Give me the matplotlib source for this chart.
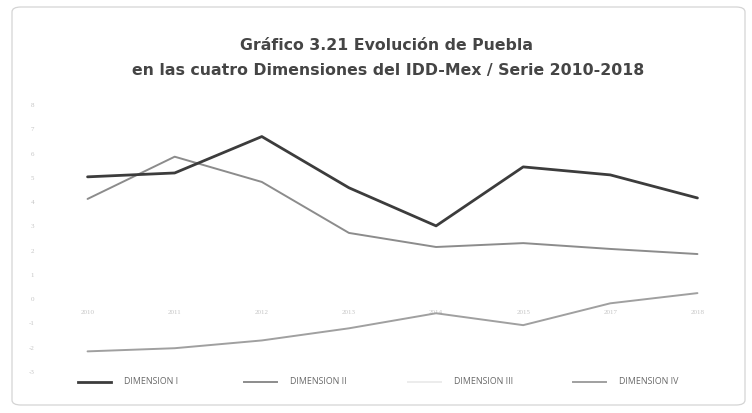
import matplotlib
matplotlib.use("Agg")
import matplotlib.pyplot as plt
from matplotlib.patches import FancyBboxPatch
from matplotlib.lines import Line2D

years = ["2010", "2011", "2012", "2013", "2014", "2015", "2017", "2018"]
dim1 = [5.04, 5.20, 6.70, 4.59, 3.02, 5.45, 5.12, 4.17]
dim2 = [4.13, 5.87, 4.83, 2.73, 2.15, 2.31, 2.07, 1.86]
dim4 = [-2.15, -2.02, -1.70, -1.20, -0.58, -1.07, -0.17, 0.25]
y_ticks = list(range(-3, 9))
legend_labels = ["DIMENSION I", "DIMENSION II", "DIMENSION III", "DIMENSION IV"]

title_lines = ["Gráfico 3.21 Evolución de Puebla",
               "en las cuatro Dimensiones del IDD-Mex / Serie 2010-2018"]

W, H = 752, 413
fig = plt.figure(figsize=(W / 100, H / 100), dpi=100)
fig.patch.set_facecolor("white")

# rounded frame around the chart
frame = FancyBboxPatch((12 / W, 8 / H), 733 / W, 398 / H,
                       boxstyle="round,pad=0,rounding_size=0.012",
                       transform=fig.transFigure, facecolor="none",
                       edgecolor="#d4d4d4", linewidth=0.9, zorder=-1)
fig.patches.append(frame)

ax = fig.add_axes([44 / W, 1 - 372 / H, 697 / W, 267 / H])
ax.set_facecolor("none")

x = list(range(len(years)))
colors = ["#3c3c3c", "#8c8c8c", "#ececec", "#a0a0a0"]
widths = [2.0, 1.4, 1.4, 1.4]
ax.plot(x, dim1, color=colors[0], lw=widths[0], solid_capstyle="round", zorder=4)
ax.plot(x, dim2, color=colors[1], lw=widths[1], solid_capstyle="round", zorder=3)
ax.plot(x, dim4, color=colors[3], lw=widths[3], solid_capstyle="round", zorder=3)

ax.set_xlim(-0.5, len(years) - 0.5)
ax.set_ylim(-3, 8)
ax.set_yticks(y_ticks)
ax.set_yticklabels([str(v) for v in y_ticks])
ax.set_xticks(x)
ax.set_xticklabels(years)

for s in ["top", "right", "left"]:
    ax.spines[s].set_visible(False)
ax.spines["bottom"].set_position(("data", 0))
ax.spines["bottom"].set_color("none")

tick_color = "#c4c4c4"
ax.tick_params(axis="y", length=0, pad=7, labelsize=5, labelcolor=tick_color)
ax.tick_params(axis="x", length=0, pad=8, labelsize=5, labelcolor=tick_color)
for t in ax.get_xticklabels() + ax.get_yticklabels():
    t.set_fontfamily("Liberation Serif")

fig.text(386 / W, 1 - 45 / H, title_lines[0], ha="center", va="center",
         fontsize=11.3, fontweight="bold", color="#454545", family="DejaVu Sans")
fig.text(388 / W, 1 - 70 / H, title_lines[1], ha="center", va="center",
         fontsize=11.3, fontweight="bold", color="#454545", family="DejaVu Sans")

# legend row: evenly spaced entries along the bottom
legend_y = 1 - 382 / H
entry_x = [78, 244, 408, 573]
line_len = 33
for x0, label, col, lw in zip(entry_x, legend_labels, colors, widths):
    fig.add_artist(Line2D([x0 / W, (x0 + line_len) / W], [legend_y, legend_y],
                          transform=fig.transFigure, color=col, lw=lw))
    fig.text((x0 + line_len + 13) / W, legend_y, label, ha="left", va="center",
             fontsize=6.4, color="#6a6a6a", family="Open Sans")

fig.savefig("out.png", dpi=100, facecolor="white")
